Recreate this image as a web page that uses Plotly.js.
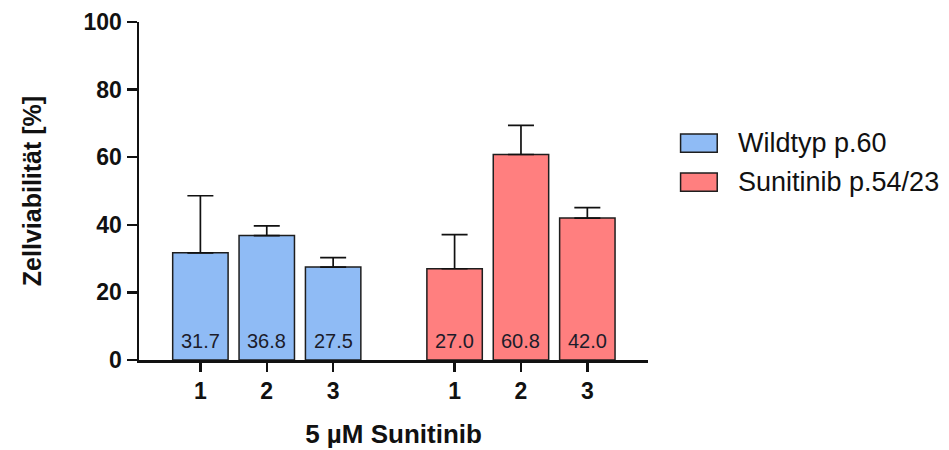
<!DOCTYPE html>
<html>
<head>
<meta charset="utf-8">
<script src="https://cdn.plot.ly/plotly-3.0.1.min.js"></script>
<style>
  html, body { margin: 0; padding: 0; background: #fff; }
  #chart { width: 949px; height: 450px; }
</style>
</head>
<body>
<div id="chart"></div>
<script>
// Cell viability after 5 µM sunitinib, three replicates per cell line
const categories = ['1', '2', '3'];
const seriesNames = ['Wildtyp p.60', 'Sunitinib p.54/23'];
const wildtypValues = [31.7, 36.8, 27.5];
const wildtypErrors = [16.9, 2.9, 2.8];
const sunitinibValues = [27.0, 60.8, 42.0];
const sunitinibErrors = [10.1, 8.6, 3.1];
const yTickValues = [0, 20, 40, 60, 80, 100];

const FONT = 'Liberation Sans, Arial, Helvetica, sans-serif';
const fills = ['#8fbbf5', '#ff7f7f'];
const outline = '#1e1e1e';
const seriesValues = [wildtypValues, sunitinibValues];
const seriesErrors = [wildtypErrors, sunitinibErrors];

// Slot of each bar on the numeric x axis: groups separated by a gap
const groupStart = [1, 4.83];
const slots = g => categories.map((_, i) => groupStart[g] + i);

function barTrace(g) {
  const errors = seriesErrors[g];
  return {
    type: 'bar',
    name: seriesNames[g],
    x: slots(g),
    y: seriesValues[g],
    width: 0.835,
    marker: { color: fills[g], line: { color: outline, width: 1.5 } },
    error_y: {
      type: 'data', symmetric: false,
      array: errors, arrayminus: errors.map(() => 0),
      color: '#111', thickness: 1.7, width: 13
    },
    cliponaxis: false,
    hoverinfo: 'skip',
    showlegend: false
  };
}

const data = [barTrace(0), barTrace(1)];

// Mean value written near the foot of each bar
const valueLabels = [];
seriesValues.forEach((values, g) => {
  const xs = slots(g);
  values.forEach((v, i) => valueLabels.push({
    xref: 'x', yref: 'y', x: xs[i], y: 0,
    xanchor: 'center', yanchor: 'bottom', yshift: 6,
    text: v.toFixed(1), showarrow: false,
    font: { family: FONT, size: 20, color: '#1c1c2a' }
  }));
});

// Hand-drawn legend: wide swatches with the series names beside them
const legendPitch = 0.1154;
const legendShapes = seriesNames.map((_, g) => ({
  type: 'rect', xref: 'paper', yref: 'paper',
  x0: 1.064, x1: 1.136,
  y0: 0.6145 - g * legendPitch, y1: 0.6686 - g * legendPitch,
  fillcolor: fills[g], line: { color: outline, width: 1.5 }
}));
const legendLabels = seriesNames.map((name, g) => ({
  xref: 'paper', yref: 'paper',
  x: 1.172, y: 0.642 - g * legendPitch,
  xanchor: 'left', yanchor: 'middle',
  text: name, showarrow: false,
  font: { family: FONT, size: 27, color: '#111' }
}));

const layout = {
  width: 949, height: 450,
  margin: { l: 139, r: 301, t: 22, b: 90 },
  paper_bgcolor: '#fff', plot_bgcolor: '#fff',
  font: { family: FONT, color: '#111' },
  bargap: 0,
  xaxis: {
    range: [0.075, 7.744],
    tickmode: 'array',
    tickvals: slots(0).concat(slots(1)),
    ticktext: categories.concat(categories),
    ticks: 'outside', ticklen: 9, tickwidth: 2.5, tickcolor: '#111',
    tickfont: { family: FONT, size: 23, color: '#111', weight: 'bold' },
    showline: true, linecolor: '#111', linewidth: 2.5,
    showgrid: false, zeroline: false,
    title: { text: '5 µM Sunitinib', standoff: 22,
             font: { family: FONT, size: 26, color: '#111', weight: 'bold' } }
  },
  yaxis: {
    range: [0, 100],
    tickmode: 'array', tickvals: yTickValues,
    ticks: 'outside', ticklen: 10, tickwidth: 2.5, tickcolor: '#111',
    tickfont: { family: FONT, size: 23, color: '#111', weight: 'bold' },
    showline: true, linecolor: '#111', linewidth: 2.5,
    showgrid: false, zeroline: false,
    title: { text: 'Zellviabilität [%]', standoff: 35,
             font: { family: FONT, size: 25, color: '#111', weight: 'bold' } }
  },
  shapes: legendShapes,
  annotations: valueLabels.concat(legendLabels),
  showlegend: false
};

Plotly.newPlot('chart', data, layout, { displayModeBar: false, staticPlot: true });
</script>
</body>
</html>
